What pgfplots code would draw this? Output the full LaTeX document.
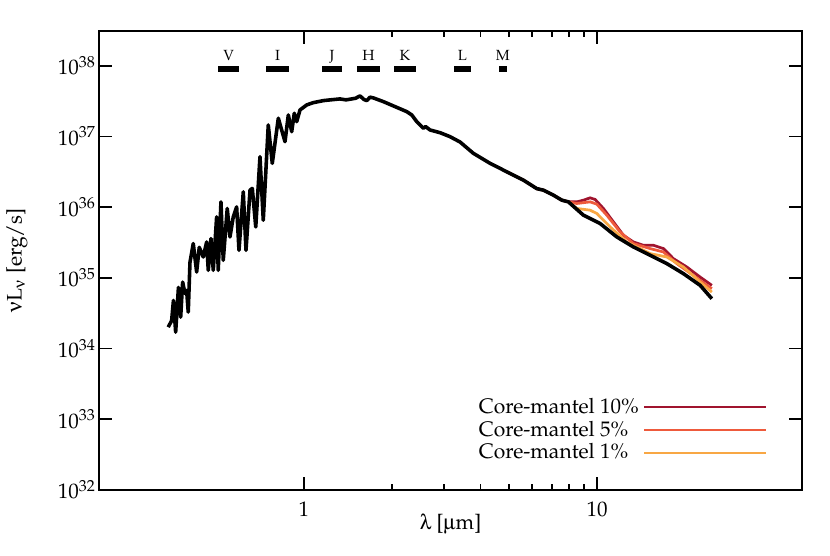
\documentclass[border=0pt]{standalone}
\usepackage[T1]{fontenc}
\usepackage{mathpazo}
\usepackage[Symbol]{upgreek}
\usepackage{pgfplots}
\pgfplotsset{compat=1.18}
\usetikzlibrary{calc}
\definecolor{corered}{RGB}{160,20,46}
\definecolor{coreorange}{RGB}{238,90,60}
\definecolor{coreyellow}{RGB}{248,167,68}

% stellar SED (black), lambda [um] vs nuL_nu [erg/s]
\pgfplotstableread{
x y
0.3443 2.005e34
0.3536 2.496e34
0.3586 4.797e34
0.3649 1.703e34
0.3730 7.33e34
0.3796 2.780e34
0.3855 8.72e34
0.3925 6.03e34
0.3978 6.65e34
0.4028 3.272e34
0.4083 1.659e35
0.4190 3.056e35
0.4303 1.209e35
0.4392 2.708e35
0.4532 1.972e35
0.4655 3.220e35
0.4714 1.278e35
0.4815 3.597e35
0.4903 1.278e35
0.5034 7.286e35
0.5098 1.278e35
0.5208 1.189e36
0.5303 1.771e35
0.5472 9.59e35
0.5590 3.790e35
0.5737 7.286e35
0.5892 1.010e36
0.6000 2.455e35
0.6207 1.648e36
0.6340 2.455e35
0.6544 1.742e36
0.6663 1.842e36
0.6846 5.256e35
0.7077 5.170e36
0.7262 6.541e35
0.7553 1.456e37
0.7795 4.168e36
0.8173 1.813e37
0.8390 1.237e37
0.8614 8.44e36
0.8841 2.018e37
0.9079 1.170e37
0.9266 2.134e37
0.9443 1.622e37
0.9691 2.376e37
1.0215 2.798e37
1.0758 3.016e37
1.1638 3.220e37
1.2400 3.310e37
1.3270 3.403e37
1.3900 3.300e37
1.4355 3.370e37
1.5000 3.480e37
1.5530 3.754e37
1.6000 3.350e37
1.6369 3.220e37
1.6800 3.600e37
1.7241 3.517e37
1.8652 3.116e37
2.0178 2.708e37
2.2418 2.247e37
2.3316 2.018e37
2.4252 1.622e37
2.5543 1.307e37
2.6000 1.380e37
2.6918 1.237e37
2.9121 1.132e37
3.1498 9.94e36
3.4073 8.356e36
3.7836 5.777e36
4.3138 4.168e36
4.9180 3.168e36
5.6031 2.415e36
6.2262 1.830e36
6.5572 1.742e36
7.0937 1.480e36
7.5774 1.257e36
7.9807 1.189e36
8.9808 7.70e35
10.238 5.872e35
11.675 3.790e35
13.302 2.735e35
15.168 2.085e35
17.292 1.590e35
19.704 1.147e35
22.468 7.83e34
24.628 5.070e34
}\sedbare

\pgfplotstableread{
x y
4.9180 3.168e36
5.6031 2.415e36
6.2262 1.830e36
6.5572 1.742e36
7.0937 1.480e36
7.5774 1.257e36
7.9807 1.189e36
8.526 1.189e36
8.981 1.257e36
9.465 1.355e36
9.844 1.286e36
10.508 9.59e35
11.367 6.187e35
12.294 4.007e35
13.302 3.220e35
14.391 2.891e35
15.566 2.891e35
16.836 2.595e35
18.211 1.872e35
20.237 1.423e35
22.468 1.026e35
24.628 7.83e34
}\sedten

\pgfplotstableread{
x y
4.9180 3.168e36
5.6031 2.415e36
6.2262 1.830e36
6.5572 1.742e36
7.0937 1.480e36
7.5774 1.257e36
7.9807 1.189e36
8.526 1.128e36
9.465 1.189e36
9.977 1.103e36
10.792 7.70e35
11.982 4.462e35
13.302 3.056e35
15.168 2.595e35
16.836 2.323e35
18.705 1.590e35
22.468 9.21e34
24.628 7.03e34
}\sedfive

\pgfplotstableread{
x y
4.9180 3.168e36
5.6031 2.415e36
6.2262 1.830e36
6.5572 1.742e36
7.0937 1.480e36
7.5774 1.257e36
7.9807 1.189e36
8.526 9.59e35
9.465 9.07e35
9.977 8.14e35
11.074 5.256e35
12.628 3.220e35
15.168 2.205e35
17.292 1.972e35
19.704 1.423e35
22.468 8.72e34
24.628 6.29e34
}\sedone

\begin{document}
\begin{tikzpicture}
\begin{axis}[
  name=ax,
  scale only axis, width=334pt, height=218pt,
  xmode=log, ymode=log,
  xmin=0.2, xmax=50, ymin=1e32, ymax=3.1e38,
  xtick={1,10}, xticklabels={1,10},
  ytick={1e32,1e33,1e34,1e35,1e36,1e37,1e38},
  yminorticks=false,
  tick align=inside, tick pos=both,
  major tick length=6pt, minor tick length=3pt,
  every tick/.style={black, line width=0.8pt},
  axis line style={line width=0.8pt},
  xticklabel style={yshift=-2pt},
  yticklabel style={xshift=2pt},
  xlabel={$\uplambda$ [$\upmu$m]},
  xlabel style={yshift=8pt},
  ylabel={$\upnu\mathrm{L}_{\upnu}$ [erg/s]},
  ylabel style={yshift=7.5pt},
  legend plot pos=right,
  legend cell align=left,
  legend style={draw=none, fill=none, at={(rel axis cs:0.96,0.042)},
    anchor=south east, row sep=-2pt, font=\normalsize},
  legend image code/.code={\draw[#1, line width=1pt] (0pt,0pt) -- (58pt,0pt);},
]
\addplot[color=corered, line width=1.3pt] table {\sedten};
\addlegendentry{Core-mantel 10\%}
\addplot[color=coreorange, line width=1.3pt] table {\sedfive};
\addlegendentry{Core-mantel 5\%}
\addplot[color=coreyellow, line width=1.3pt] table {\sedone};
\addlegendentry{Core-mantel 1\%}
\addplot[black, line width=1.7pt, line join=round, forget plot] table {\sedbare};

% photometric bands
\addplot[black, line width=3pt, forget plot] coordinates {(0.509,9.1e37) (0.600,9.1e37)};
\addplot[black, line width=3pt, forget plot] coordinates {(0.742,9.1e37) (0.889,9.1e37)};
\addplot[black, line width=3pt, forget plot] coordinates {(1.152,9.1e37) (1.348,9.1e37)};
\addplot[black, line width=3pt, forget plot] coordinates {(1.517,9.1e37) (1.816,9.1e37)};
\addplot[black, line width=3pt, forget plot] coordinates {(2.03,9.1e37) (2.41,9.1e37)};
\addplot[black, line width=3pt, forget plot] coordinates {(3.25,9.1e37) (3.72,9.1e37)};
\addplot[black, line width=3pt, forget plot] coordinates {(4.63,9.1e37) (4.93,9.1e37)};
\node[font=\scriptsize, anchor=base] at (axis cs:0.553,1.18e38) {V};
\node[font=\scriptsize, anchor=base] at (axis cs:0.812,1.18e38) {I};
\node[font=\scriptsize, anchor=base] at (axis cs:1.246,1.18e38) {J};
\node[font=\scriptsize, anchor=base] at (axis cs:1.66,1.18e38) {H};
\node[font=\scriptsize, anchor=base] at (axis cs:2.21,1.18e38) {K};
\node[font=\scriptsize, anchor=base] at (axis cs:3.47,1.18e38) {L};
\node[font=\scriptsize, anchor=base] at (axis cs:4.77,1.18e38) {M};
\end{axis}
\pgfresetboundingbox
\path[use as bounding box] ($(ax.south west)+(-47.1pt,-31pt)$) rectangle ($(ax.south west)+(347.3pt,232.8pt)$);
\end{tikzpicture}
\end{document}
